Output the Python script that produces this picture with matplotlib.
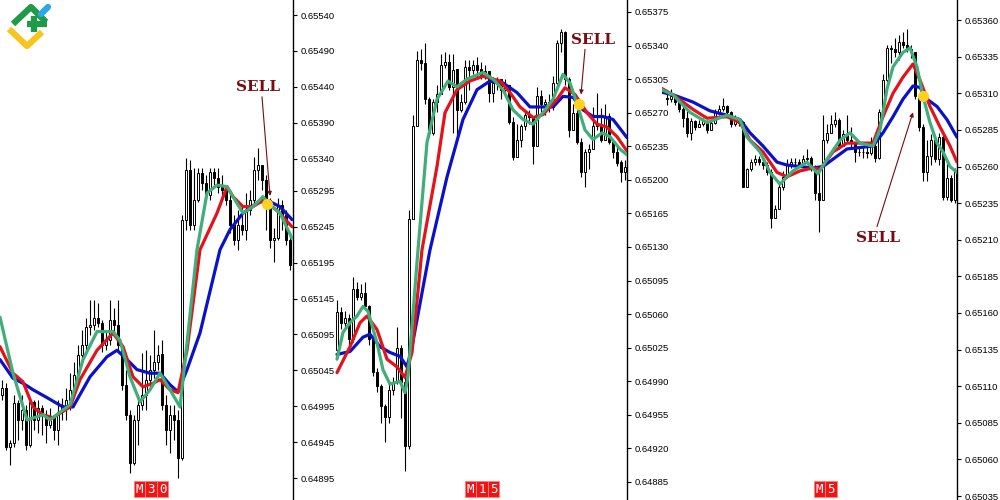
import matplotlib.pyplot as plt
import numpy as np
from matplotlib.patches import Rectangle

# prices in points (1e-5); open of each candle = previous close
# ---- M30 ----
m30_open0 = 65011
m30_close = [65021, 64938, 64944, 65000, 64976, 64990, 64941, 65001, 64976, 64993,
             64983, 64969, 64979, 64962, 64987, 64997, 65004, 65018, 65039, 65067,
             65080, 65106, 65108, 65118, 65111, 65080, 65087, 65115, 65108, 65080,
             65025, 64983, 64916, 64976, 64997, 65011, 65032, 65046, 65057, 65067,
             64997, 64962, 64983, 64976, 64923, 65255, 65324, 65248, 65282, 65320,
             65306, 65289, 65321, 65313, 65301, 65296, 65282, 65248, 65227, 65248,
             65241, 65268, 65282, 65324, 65331, 65310, 65282, 65227, 65229, 65275,
             65262, 65227, 65192]
m30_high = [65032, 65027, 64948, 65011, 65004, 65011, 64997, 65004, 65004, 65004,
            64997, 64990, 64993, 64983, 65004, 65007, 65021, 65041, 65057, 65080,
            65101, 65118, 65143, 65143, 65139, 65115, 65101, 65143, 65132, 65143,
            65080, 65046, 64990, 64983, 65011, 65069, 65073, 65067, 65101, 65080,
            65087, 65011, 64997, 64997, 64990, 65262, 65341, 65338, 65327, 65327,
            65327, 65317, 65327, 65327, 65327, 65317, 65303, 65289, 65262, 65268,
            65275, 65292, 65296, 65342, 65355, 65331, 65317, 65285, 65243, 65285,
            65282, 65268, 65234]
m30_low = [65004, 64934, 64913, 64938, 64948, 64962, 64934, 64938, 64962, 64958,
           64955, 64944, 64965, 64948, 64941, 64976, 64976, 64990, 65007, 65025,
           65053, 65071, 65094, 65101, 65106, 65071, 65073, 65080, 65094, 65073,
           65018, 64976, 64902, 64913, 64941, 64990, 64990, 65018, 65034, 65046,
           64990, 64941, 64930, 64948, 64895, 64920, 65241, 65241, 65241, 65280,
           65296, 65282, 65282, 65303, 65292, 65282, 65275, 65236, 65220, 65213,
           65234, 65227, 65262, 65275, 65310, 65296, 65241, 65216, 65196, 65227,
           65241, 65220, 65185]
m30_green_t = [-0.5, 2.75, 6.25, 10.25, 12, 17, 20.25, 23.75, 27.75, 29.5, 32, 34.5, 37, 39.5,
               42, 44.5, 46.25, 48.75, 51.25, 53.75, 56.25, 57.75, 60.25, 62.75, 65.25, 67, 69.5, 72.5]
m30_green = [65119, 65041, 64976, 64983, 64976, 64997, 65060, 65099, 65099, 65087, 65036, 65001,
             65018, 65041, 65018, 64994, 65083, 65213, 65292, 65303, 65301, 65287, 65264, 65273,
             65287, 65275, 65264, 65229]
m30_red_t = [-0.5, 2.75, 5.25, 7.75, 10.25, 12.75, 17, 19.5, 23.75, 27.75, 30.25, 32.75, 35.25,
             37.75, 39.5, 42, 44, 46.25, 49.5, 53.75, 56.25, 57.75, 60.25, 62.75, 65.25, 68.75, 72.5]
m30_red = [65078, 65041, 65029, 64994, 64983, 64979, 64994, 65032, 65073, 65097, 65078, 65036,
           65022, 65027, 65032, 65018, 65014, 65073, 65213, 65264, 65301, 65287, 65273, 65273,
           65282, 65268, 65245]
m30_blue_t = [-0.5, 2.75, 5.25, 7.75, 11.25, 15.25, 17.75, 22, 26.25, 28.75, 31.25, 33.75, 37,
              39.5, 42, 44, 46.25, 49.5, 54.5, 57, 60.25, 63.75, 66.25, 69.5, 72.5]
m30_blue = [65060, 65034, 65027, 65018, 65007, 64994, 64994, 65036, 65064, 65073, 65060, 65046,
            65041, 65041, 65025, 65015, 65046, 65097, 65213, 65241, 65264, 65278, 65282, 65273, 65255]
m30_ticks = [65540, 65490, 65440, 65390, 65340, 65295, 65245, 65195, 65145, 65095, 65045,
             64995, 64945, 64895]

# ---- M15 ----
m15_open0 = 65023
m15_close = [65062, 65051, 65056, 65034, 65086, 65078, 65082, 65068, 65034, 65000,
             64985, 64964, 64953, 64981, 64989, 65025, 64989, 64922, 65159, 65256,
             65325, 65322, 65284, 65249, 65281, 65289, 65320, 65323, 65297, 65315,
             65273, 65281, 65318, 65315, 65320, 65315, 65308, 65313, 65291, 65301,
             65305, 65294, 65299, 65260, 65224, 65242, 65256, 65268, 65266, 65235,
             65287, 65279, 65281, 65276, 65301, 65343, 65354, 65305, 65252, 65270,
             65239, 65208, 65229, 65232, 65256, 65258, 65242, 65266, 65239, 65229,
             65218, 65208, 65213]
m15_high = [65075, 65067, 65063, 65060, 65099, 65093, 65091, 65093, 65070, 65036,
            65004, 64987, 64966, 64987, 64994, 65047, 65028, 64994, 65169, 65268,
            65334, 65336, 65343, 65286, 65284, 65299, 65331, 65333, 65331, 65331,
            65307, 65289, 65325, 65325, 65325, 65328, 65323, 65320, 65310, 65307,
            65307, 65305, 65305, 65284, 65266, 65258, 65258, 65271, 65273, 65256,
            65297, 65294, 65284, 65289, 65308, 65346, 65357, 65355, 65307, 65279,
            65273, 65244, 65232, 65237, 65276, 65291, 65275, 65279, 65270, 65242,
            65237, 65221, 65221]
m15_low = [65020, 65044, 65046, 65028, 65031, 65075, 65075, 65065, 65028, 64996,
           64979, 64947, 64927, 64947, 64976, 64987, 64952, 64896, 64919, 65159,
           65256, 65315, 65279, 65245, 65247, 65271, 65289, 65317, 65294, 65249,
           65247, 65271, 65279, 65294, 65310, 65307, 65305, 65305, 65281, 65281,
           65294, 65284, 65289, 65258, 65221, 65232, 65234, 65252, 65258, 65216,
           65235, 65271, 65268, 65271, 65273, 65294, 65333, 65299, 65245, 65252,
           65237, 65203, 65193, 65211, 65232, 65252, 65239, 65242, 65237, 65223,
           65214, 65198, 65200]
m15_green_t = [0, 1.5, 3.25, 5, 6.5, 7.75, 10, 11.5, 13.25, 15.75, 17, 17.75, 20.25, 22.5, 25,
               27.75, 30, 32.5, 36.5, 39, 41.5, 44, 46.5, 49, 51.5, 54, 56.5, 58.25, 60.25, 62,
               64, 66.25, 68.25, 70.75, 72.5]
m15_green = [65013, 65041, 65051, 65058, 65068, 65063, 65030, 65002, 64987, 64990, 64978, 64995,
             65127, 65239, 65284, 65303, 65297, 65305, 65312, 65305, 65294, 65273, 65263, 65258,
             65270, 65284, 65310, 65301, 65276, 65252, 65242, 65249, 65245, 65232, 65226]
m15_red_t = [0, 3.25, 5.75, 7.5, 10, 12.5, 15, 17, 18.75, 21.25, 25, 27, 30, 33.25, 36.5, 40.75,
             43.25, 45.75, 49, 51.5, 55, 57, 59.5, 62.5, 65, 67.5, 70, 72.5]
m15_red = [64999, 65026, 65051, 65058, 65044, 65013, 65005, 64994, 65020, 65127, 65214, 65270,
           65294, 65303, 65308, 65303, 65291, 65276, 65265, 65268, 65284, 65296, 65289, 65270,
           65258, 65255, 65245, 65230]
m15_blue_t = [0, 3.25, 6.5, 8.25, 10.75, 13.25, 15.75, 17.5, 18.75, 23.25, 27.5, 31.5, 35, 38.25,
              41.5, 45, 48.25, 51.5, 54, 56.5, 59, 61.5, 64, 66.5, 69, 72.5]
m15_blue = [65018, 65021, 65036, 65039, 65026, 65020, 65016, 65005, 65026, 65127, 65203, 65263,
            65294, 65303, 65301, 65291, 65276, 65276, 65276, 65287, 65286, 65273, 65266, 65266,
            65263, 65244]
m15_ticks = [65375, 65340, 65305, 65270, 65235, 65200, 65165, 65130, 65095, 65060, 65025,
             64990, 64955, 64920, 64885]

# ---- M5 ----
m5_open0 = 65307
m5_close = [65306, 65308, 65304, 65299, 65293, 65283, 65291, 65287, 65289, 65291,
            65285, 65290, 65297, 65299, 65301, 65297, 65289, 65292, 65290, 65246,
            65258, 65263, 65265, 65263, 65261, 65256, 65225, 65231, 65246, 65253,
            65261, 65263, 65263, 65262, 65265, 65266, 65258, 65242, 65237, 65278,
            65283, 65289, 65292, 65274, 65282, 65278, 65276, 65270, 65270, 65270,
            65269, 65274, 65266, 65297, 65319, 65341, 65340, 65338, 65345, 65343,
            65340, 65338, 65308, 65287, 65256, 65267, 65278, 65265, 65280, 65239,
            65252, 65237, 65257]
m5_high = [65311, 65313, 65309, 65306, 65302, 65298, 65293, 65292, 65292, 65293,
           65292, 65292, 65299, 65302, 65307, 65302, 65298, 65295, 65293, 65291,
           65259, 65265, 65268, 65267, 65266, 65263, 65258, 65234, 65249, 65257,
           65265, 65266, 65266, 65265, 65268, 65272, 65267, 65261, 65258, 65295,
           65289, 65295, 65297, 65293, 65285, 65295, 65287, 65277, 65273, 65273,
           65275, 65280, 65280, 65299, 65323, 65343, 65343, 65348, 65350, 65352,
           65354, 65343, 65338, 65309, 65289, 65278, 65282, 65280, 65283, 65282,
           65265, 65254, 65259]
m5_low = [65302, 65304, 65302, 65297, 65287, 65280, 65278, 65285, 65287, 65288,
          65283, 65287, 65289, 65295, 65298, 65295, 65287, 65288, 65288, 65246,
          65247, 65257, 65261, 65261, 65258, 65254, 65218, 65228, 65234, 65244,
          65252, 65259, 65261, 65260, 65261, 65262, 65257, 65237, 65215, 65237,
          65276, 65283, 65287, 65272, 65278, 65277, 65272, 65263, 65267, 65266,
          65266, 65268, 65263, 65265, 65295, 65318, 65331, 65335, 65333, 65341,
          65338, 65334, 65306, 65284, 65250, 65250, 65261, 65263, 65261, 65237,
          65237, 65236, 65235]
m5_green_t = [-1.75, 1.5, 5.75, 10, 15, 18.25, 20, 23.25, 25.75, 28.25, 31.5, 35, 37.75, 40,
              43.25, 45.75, 48.25, 51.5, 53.25, 55, 56.5, 59, 60.75, 62.5, 64, 65.75, 67.5, 69,
              70.75, 72.5]
m5_green = [65313, 65309, 65297, 65290, 65295, 65292, 65280, 65270, 65256, 65248, 65257, 65263,
            65255, 65265, 65278, 65283, 65276, 65274, 65285, 65313, 65328, 65338, 65341, 65328,
            65308, 65290, 65276, 65270, 65260, 65256]
m5_red_t = [-1.75, 1.5, 6.5, 10, 15, 18.25, 20.75, 24, 27.5, 30, 33.25, 36.5, 38.25, 41.5, 45,
            48.25, 51.5, 54, 56.5, 59, 61.5, 63.25, 65.75, 68.25, 70.75, 72.5]
m5_red = [65314, 65309, 65299, 65293, 65294, 65290, 65278, 65270, 65256, 65253, 65257, 65259,
          65258, 65270, 65276, 65276, 65276, 65294, 65310, 65321, 65330, 65319, 65301, 65287,
          65274, 65263]
m5_blue_t = [-1.75, 1.5, 6.5, 10.75, 15, 18.25, 20.75, 24, 27.5, 30, 33.25, 36.5, 39, 41.5, 45,
             48.25, 51.5, 54, 56.5, 59, 61.5, 63.25, 65, 67.5, 70, 72.5]
m5_blue = [65311, 65309, 65304, 65298, 65295, 65292, 65283, 65274, 65263, 65261, 65260, 65259,
           65260, 65265, 65272, 65273, 65274, 65283, 65294, 65306, 65315, 65314, 65306, 65301,
           65292, 65280]
m5_ticks = [65360, 65335, 65310, 65285, 65260, 65235, 65210, 65185, 65160, 65135, 65110,
            65085, 65060, 65035]

# sell signal: (bar, price) of dot, text, arrow tail, arrow head
m30_sell = [(66.25, 65277), (64, 65440), (65, 65426), (67, 65288)]
m15_sell = [(60.5, 65279), (64, 65346), (62, 65336), (61, 65289)]
m5_sell = [(64, 65308), (52.75, 65211), (52.5, 65219), (61.5, 65297)]

GREEN = '#3fae78'
RED = '#e3121b'
BLUE = '#0b11c9'
SELL_C = '#7a0c10'


def panel(rect, xlim, ylim, open0, close, high, low, lines, ticks, sell):
    ax = fig.add_axes(rect)
    ax.set_facecolor('none')
    close = np.array(close) / 1e5
    opn = np.concatenate([[open0 / 1e5], close[:-1]])
    high = np.maximum(np.array(high) / 1e5, np.maximum(opn, close))
    low = np.minimum(np.array(low) / 1e5, np.minimum(opn, close))
    t = np.arange(len(close))
    ax.vlines(t, low, high, color='black', lw=0.8, zorder=2)
    up = close >= opn
    ax.bar(t[up], (close - opn)[up], bottom=opn[up], width=0.72, color='white',
           edgecolor='black', lw=0.7, zorder=3)
    ax.bar(t[~up], (opn - close)[~up] + 1e-6, bottom=close[~up], width=0.72, color='black',
           edgecolor='black', lw=0.7, zorder=3)
    for (lt, lv), c in zip(lines, [BLUE, RED, GREEN]):
        ax.plot(lt, np.array(lv) / 1e5, color=c, lw=2.3, solid_capstyle='round',
                solid_joinstyle='round', zorder=4)
    dot, txt, tail, head = sell
    ax.plot(dot[0], dot[1] / 1e5, 'o', color='#ffd21f', ms=7, zorder=6)
    ax.annotate('', xy=(head[0], head[1] / 1e5), xytext=(tail[0], tail[1] / 1e5),
                arrowprops=dict(arrowstyle='-|>', color=SELL_C, lw=0.8, mutation_scale=6,
                                shrinkA=0, shrinkB=0), zorder=5)
    ax.text(txt[0], txt[1] / 1e5, 'SELL', color=SELL_C, fontsize=11, fontweight='heavy',
            family='DejaVu Serif', ha='center', va='center', zorder=6)
    ax.set_xlim(*xlim)
    ax.set_ylim(*ylim)
    for s in ['left', 'top', 'bottom']:
        ax.spines[s].set_visible(False)
    ax.spines['right'].set_linewidth(1)
    ax.set_xticks([])
    ax.yaxis.tick_right()
    ax.set_yticks(np.array(ticks) / 1e5)
    ax.set_yticklabels(['%.5f' % (v / 1e5) for v in ticks], family='Liberation Sans',
                       fontsize=6.8)
    ax.tick_params(axis='y', direction='out', length=3, width=0.8, pad=2.5, colors='black')
    return ax


fig = plt.figure(figsize=(10, 5), dpi=100)

panel([0.0, 0.0, 0.293, 1.0], (-0.5, 72.75), (0.648644, 0.655609),
      m30_open0, m30_close, m30_high, m30_low,
      [(m30_blue_t, m30_blue), (m30_red_t, m30_red), (m30_green_t, m30_green)],
      m30_ticks, m30_sell)
panel([0.333, 0.0, 0.294, 1.0], (-1.0, 72.5), (0.648662, 0.653875),
      m15_open0, m15_close, m15_high, m15_low,
      [(m15_blue_t, m15_blue), (m15_red_t, m15_red), (m15_green_t, m15_green)],
      m15_ticks, m15_sell)
panel([0.662, 0.0, 0.295, 1.0], (-1.25, 72.5), (0.650323, 0.653737),
      m5_open0, m5_close, m5_high, m5_low,
      [(m5_blue_t, m5_blue), (m5_red_t, m5_red), (m5_green_t, m5_green)],
      m5_ticks, m5_sell)

# overlay in pixel coordinates for logo and timeframe labels
ov = fig.add_axes([0, 0, 1, 1], zorder=10)
ov.set_facecolor('none')
ov.set_xlim(0, 1000)
ov.set_ylim(500, 0)
ov.axis('off')

ov.plot([9, 27, 42], [29, 46, 32], color='#f7c51e', lw=4.5, solid_capstyle='butt')
ov.plot([13, 31, 46], [24, 7, 22], color='#1f9a48', lw=4.5, solid_capstyle='butt')
ov.plot([27, 47], [24, 24], color='#1f9a48', lw=4.5, solid_capstyle='butt')
ov.plot([34, 34], [16, 32], color='#1f9a48', lw=4.5, solid_capstyle='butt')
ov.plot([41, 48], [14, 7], color='#2aa7e8', lw=4.5, solid_capstyle='round')

for label, cx in [('M30', 151), ('M15', 482), ('M5', 825)]:
    w = 11.5
    x0 = cx - w * len(label) / 2
    for k, ch in enumerate(label):
        ov.add_patch(Rectangle((x0 + k * w, 481), w, 16, facecolor='#f01414',
                               edgecolor='#ff8080', lw=0.6))
        ov.text(x0 + k * w + w / 2, 489.5, ch, color='white', fontsize=9,
                family='DejaVu Sans Mono', ha='center', va='center')

fig.savefig('out.png', dpi=100)
